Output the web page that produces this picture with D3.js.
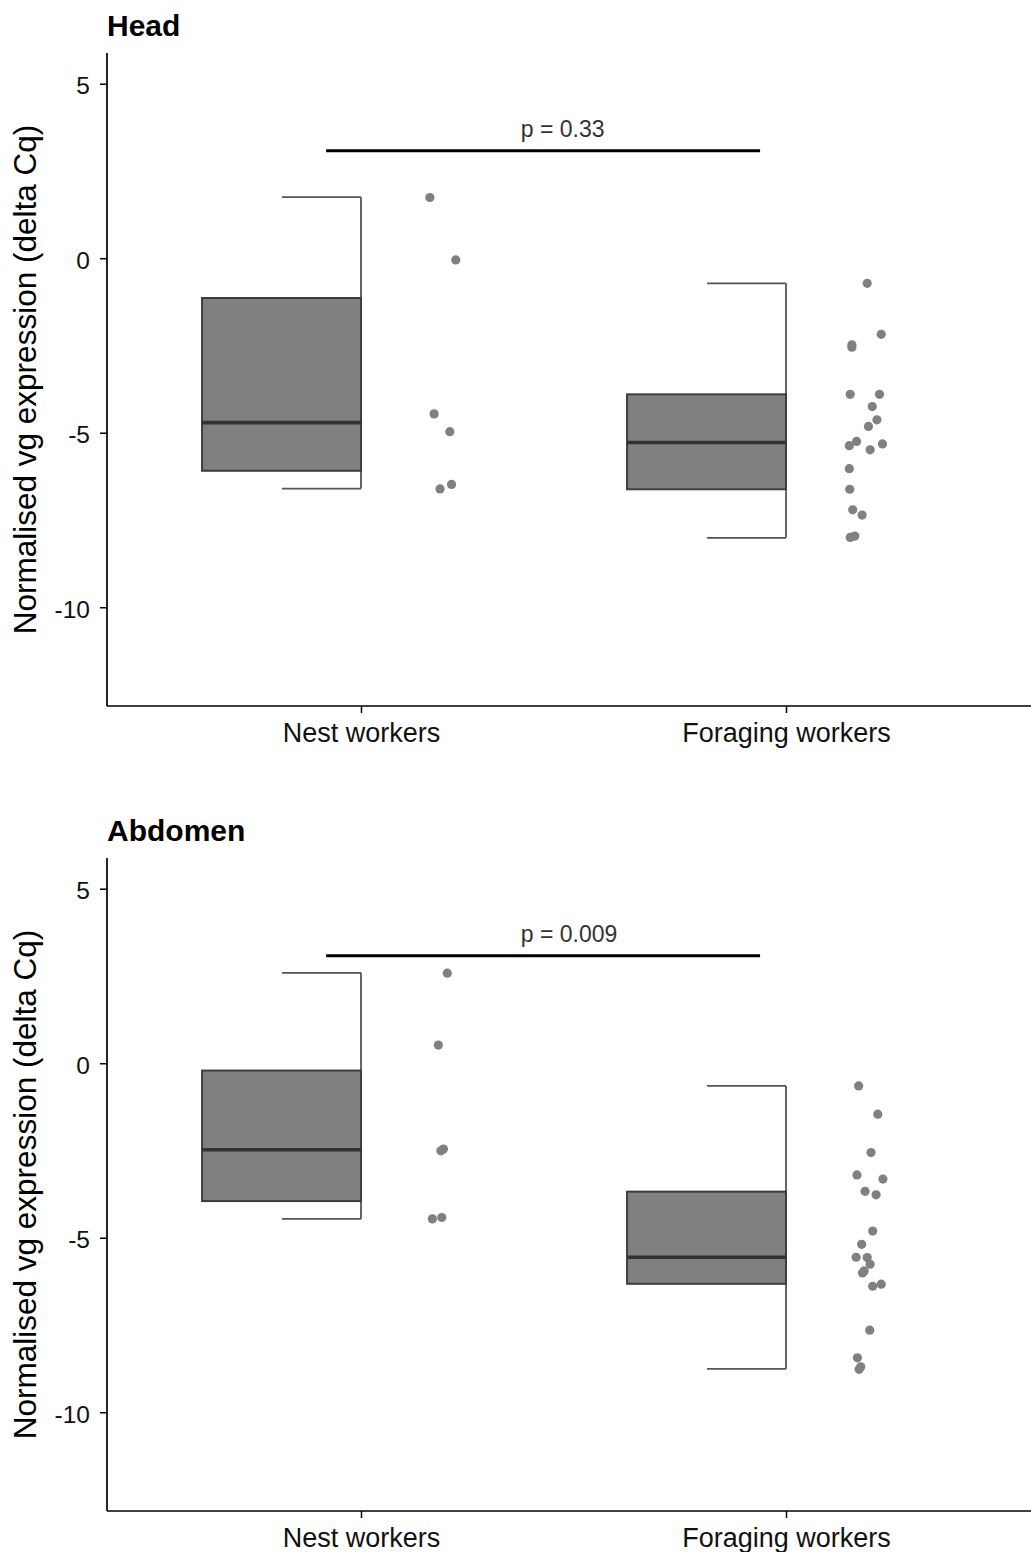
<!DOCTYPE html>
<html><head><meta charset="utf-8">
<script src="https://cdn.jsdelivr.net/npm/d3@7"></script>
<style>
html,body{margin:0;padding:0;background:#fff;}
svg{display:block;font-family:"Liberation Sans",Arial,Helvetica,sans-serif;}
</style></head>
<body>
<svg id="chart" width="1031" height="1552"></svg>
<script>
// ---- data ----
const categories = ["Nest workers", "Foraging workers"];
const panelTitles = ["Head", "Abdomen"];
const yTicks = [5, 0, -5, -10];
const pLabels = ["p = 0.33", "p = 0.009"];

// box stats [low whisker, q1, median, q3, high whisker]
const headNestBox = [-6.6, -6.09, -4.71, -1.14, 1.75];
const headForagingBox = [-8.01, -6.62, -5.28, -3.90, -0.72];
const abdomenNestBox = [-4.46, -3.95, -2.48, -0.21, 2.59];
const abdomenForagingBox = [-8.76, -6.32, -5.56, -3.68, -0.65];

// observations and their horizontal jitter (in category units)
const headNestValues = [1.74, -0.05, -4.46, -4.97, -6.48, -6.61];
const headNestJitter = [0.162, 0.223, 0.172, 0.209, 0.213, 0.186];
const headForagingValues = [-0.72, -2.18, -2.48, -2.55, -3.90, -3.90, -4.25, -4.63, -4.82, -5.25, -5.37, -5.32, -5.49, -6.03, -6.62, -7.21, -7.36, -8.00, -7.96];
const headForagingJitter = [0.191, 0.224, 0.155, 0.155, 0.151, 0.220, 0.203, 0.214, 0.194, 0.166, 0.149, 0.227, 0.198, 0.149, 0.150, 0.157, 0.179, 0.151, 0.162];
const abdomenNestValues = [2.58, 0.52, -2.46, -2.51, -4.42, -4.46];
const abdomenNestJitter = [0.203, 0.182, 0.194, 0.188, 0.190, 0.168];
const abdomenForagingValues = [-0.65, -1.46, -2.56, -3.20, -3.32, -3.67, -3.77, -4.81, -5.19, -5.56, -5.57, -5.76, -5.95, -6.01, -6.39, -6.33, -7.65, -8.44, -8.70, -8.77];
const abdomenForagingJitter = [0.171, 0.216, 0.200, 0.167, 0.228, 0.186, 0.212, 0.204, 0.178, 0.165, 0.191, 0.198, 0.184, 0.180, 0.204, 0.224, 0.197, 0.168, 0.176, 0.172];

const pBarY = [3.08, 3.08];
const pBarX = [0.918, 1.939];
const pLabelX = 1.376;

// ---- build panels ----
const panels = [
  { title: panelTitles[0], p: pLabels[0], bar: pBarY[0],
    boxes: [headNestBox, headForagingBox],
    pts: [[headNestValues, headNestJitter], [headForagingValues, headForagingJitter]] },
  { title: panelTitles[1], p: pLabels[1], bar: pBarY[1],
    boxes: [abdomenNestBox, abdomenForagingBox],
    pts: [[abdomenNestValues, abdomenNestJitter], [abdomenForagingValues, abdomenForagingJitter]] }
];

const svg = d3.select("#chart");
const x = d3.scaleLinear().domain([0.4, 2.6]).range([106, 1041]);
const yDomain = [-12.83, 5.88];
const panelOffset = 805;
const boxHalf = 0.374, capHalf = 0.186;

panels.forEach((pan, i) => {
  const top = 53 + i * panelOffset, bottom = 706 + i * panelOffset;
  const y = d3.scaleLinear().domain(yDomain).range([bottom, top]);
  const g = svg.append("g");

  // title
  g.append("text").attr("x", 107).attr("y", 36 + i * panelOffset)
    .attr("font-size", 30).attr("font-weight", "bold").attr("fill", "#000").text(pan.title);

  // y axis title
  g.append("text")
    .attr("transform", `translate(36,${(top + bottom) / 2}) rotate(-90)`)
    .attr("text-anchor", "middle").attr("font-size", 31.5).attr("fill", "#000")
    .text("Normalised vg expression (delta Cq)");

  // boxes
  pan.boxes.forEach((b, ci) => {
    const cx = ci + 1;
    const [lo, q1, med, q3, hi] = b;
    g.append("line").attr("x1", x(cx)).attr("x2", x(cx)).attr("y1", y(hi)).attr("y2", y(lo))
      .attr("stroke", "#555").attr("stroke-width", 1.8);
    [hi, lo].forEach(v => g.append("line").attr("x1", x(cx - capHalf)).attr("x2", x(cx))
      .attr("y1", y(v)).attr("y2", y(v)).attr("stroke", "#555").attr("stroke-width", 1.8));
    g.append("rect").attr("x", x(cx - boxHalf)).attr("y", y(q3))
      .attr("width", x(cx) - x(cx - boxHalf)).attr("height", y(q1) - y(q3))
      .attr("fill", "#808080").attr("stroke", "#3d3d3d").attr("stroke-width", 2);
    g.append("line").attr("x1", x(cx - boxHalf)).attr("x2", x(cx)).attr("y1", y(med)).attr("y2", y(med))
      .attr("stroke", "#333").attr("stroke-width", 3.6);
  });

  // points
  pan.pts.forEach(([vals, jit], ci) => {
    g.selectAll(null).data(vals).enter().append("circle")
      .attr("cx", (d, k) => x(ci + 1 + jit[k])).attr("cy", d => y(d))
      .attr("r", 4.6).attr("fill", "#808080");
  });

  // significance bar
  g.append("line").attr("x1", x(pBarX[0])).attr("x2", x(pBarX[1]))
    .attr("y1", y(pan.bar)).attr("y2", y(pan.bar)).attr("stroke", "#000").attr("stroke-width", 3);
  g.append("text").attr("x", x(pLabelX)).attr("y", y(pan.bar) - 14)
    .attr("font-size", 23).attr("fill", "#333").text(pan.p);

  // y axis
  const yAxis = g.append("g").attr("transform", `translate(107,0)`)
    .call(d3.axisLeft(y).tickValues(yTicks).tickSize(7).tickPadding(10).tickFormat(d3.format("d")));
  yAxis.select(".domain").attr("stroke", "#000").attr("stroke-width", 1.7).attr("d", `M0,${top}V${bottom}`);
  yAxis.selectAll(".tick line").attr("stroke", "#000").attr("stroke-width", 1.5);
  yAxis.selectAll(".tick text").attr("font-size", 24.5).attr("fill", "#111")
    .attr("font-family", '"Liberation Sans",Arial,sans-serif').attr("dy", null).attr("y", 10)
    .text(d => d < 0 ? "-" + Math.abs(d) : d);

  // x axis
  const xAxis = g.append("g").attr("transform", `translate(0,${bottom})`)
    .call(d3.axisBottom(x).tickValues([1, 2]).tickSize(7).tickPadding(8).tickFormat(d => categories[d - 1]));
  xAxis.select(".domain").attr("stroke", "#000").attr("stroke-width", 1.7).attr("d", `M107,0H1031`);
  xAxis.selectAll(".tick line").attr("stroke", "#000").attr("stroke-width", 1.5);
  xAxis.selectAll(".tick text").attr("font-size", 27).attr("fill", "#111")
    .attr("font-family", '"Liberation Sans",Arial,sans-serif').attr("dy", null).attr("y", 36);
});
</script>
</body></html>
